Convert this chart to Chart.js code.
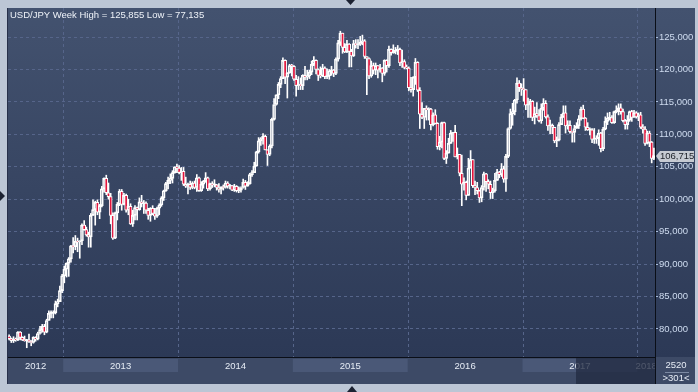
<!DOCTYPE html>
<html>
<head>
<meta charset="utf-8">
<script src="https://cdn.jsdelivr.net/npm/chart.js@4"></script>
<style>
  html, body { margin: 0; padding: 0; background: #bcc6d5; }
  #wrap { width: 698px; height: 392px; }
</style>
</head>
<body>
<div id="wrap"><canvas id="myChart" width="698" height="392"></canvas></div>
<script>
// weekly candles [open, high, low, close], grouped by the year of the week's Monday
var years = ['2012', '2013', '2014', '2015', '2016', '2017', '2018'];

var ohlc2012 = [
    [78.9, 79.1, 78.3, 78.5], [78.5, 78.6, 77.9, 78.2], [78.2, 78.8, 77.9, 78.4], [78.4, 78.6, 78.1, 78.3],
    [78.3, 79.6, 78.2, 79.5], [79.5, 79.6, 78.3, 78.7], [78.7, 78.8, 78.2, 78.3], [78.3, 78.9, 78.1, 78.2],
    [78.2, 78.4, 77.1, 78.3], [78.3, 79.2, 77.9, 78.0], [78.0, 78.2, 77.4, 77.9], [77.9, 78.8, 77.8, 78.7],
    [78.7, 78.8, 78.1, 78.4], [78.4, 79.5, 78.3, 79.3], [79.3, 80.4, 79.2, 79.9], [79.9, 80.7, 79.5, 80.4],
    [80.4, 80.7, 79.1, 79.5], [79.5, 81.5, 79.4, 81.3], [81.3, 82.8, 81.3, 82.4], [82.4, 82.8, 81.7, 82.4],
    [82.4, 82.8, 81.7, 82.5], [82.5, 84.3, 82.3, 83.9], [83.9, 84.6, 83.4, 84.2], [84.2, 86.6, 84.2, 85.9],
    [85.9, 88.4, 85.6, 88.2]
];
var ohlc2013 = [
    [88.2, 89.7, 87.1, 89.2], [89.2, 90.2, 88.0, 90.1], [90.1, 91.0, 88.1, 90.8], [90.8, 92.9, 90.3, 92.8],
    [92.8, 94.1, 91.7, 92.7], [92.7, 94.4, 92.2, 93.5], [93.5, 94.0, 91.9, 93.4], [93.4, 93.6, 90.9, 93.6],
    [93.6, 96.2, 93.0, 96.0], [96.0, 96.7, 95.2, 95.3], [95.3, 95.7, 94.3, 94.5], [94.5, 94.9, 92.6, 94.2],
    [94.2, 97.8, 92.6, 97.5], [97.5, 99.9, 97.5, 98.4], [98.4, 99.7, 96.0, 99.5], [99.5, 99.9, 97.6, 98.0],
    [98.0, 99.2, 97.0, 99.0], [99.0, 102.0, 98.8, 101.6], [101.6, 103.3, 101.1, 103.2], [103.2, 103.7, 100.7, 101.0],
    [101.0, 102.5, 100.0, 100.4], [100.4, 100.9, 96.2, 97.5], [97.5, 97.9, 93.8, 94.0], [94.0, 98.0, 93.9, 97.9],
    [97.9, 99.5, 96.8, 99.2], [99.2, 101.5, 99.0, 101.2], [101.2, 101.5, 98.3, 99.2], [99.2, 100.9, 99.1, 100.6],
    [100.6, 100.8, 98.0, 98.3], [98.3, 100.0, 97.6, 98.9], [98.9, 99.3, 96.1, 96.2], [96.2, 98.3, 95.8, 97.5],
    [97.5, 99.0, 96.8, 98.7], [98.7, 98.8, 96.8, 98.4], [98.4, 100.2, 98.3, 99.6], [99.6, 100.6, 98.8, 99.3],
    [99.3, 99.8, 97.8, 99.4], [99.4, 99.6, 97.8, 98.3], [98.3, 98.6, 96.9, 97.5], [97.5, 98.7, 96.6, 98.6],
    [98.6, 99.0, 97.6, 97.8], [97.8, 98.6, 96.9, 97.4], [97.4, 98.8, 97.2, 98.6], [98.6, 99.3, 97.6, 99.1],
    [99.1, 100.4, 98.9, 100.2], [100.2, 101.4, 99.8, 101.3], [101.3, 102.6, 101.2, 102.4], [102.4, 103.4, 101.6, 102.9],
    [102.9, 103.9, 102.4, 103.2], [103.2, 104.4, 102.5, 104.1], [104.1, 105.0, 104.0, 105.0], [105.0, 105.4, 104.1, 104.8]
];
var ohlc2014 = [
    [104.8, 105.2, 103.9, 104.1], [104.1, 104.9, 102.9, 104.3], [104.3, 104.9, 102.1, 102.3], [102.3, 103.4, 101.8, 102.0],
    [102.0, 102.5, 100.8, 102.3], [102.3, 102.8, 101.5, 101.8], [101.8, 102.7, 101.6, 102.5], [102.5, 102.8, 101.6, 101.8],
    [101.8, 103.8, 101.2, 103.3], [103.3, 103.4, 101.2, 101.3], [101.3, 102.7, 101.2, 102.3], [102.3, 102.9, 101.7, 102.8],
    [102.8, 104.1, 102.6, 103.3], [103.3, 103.4, 101.3, 101.6], [101.6, 102.5, 101.4, 102.4], [102.4, 102.7, 101.8, 102.2],
    [102.2, 103.0, 101.9, 102.2], [102.2, 102.3, 101.4, 101.8], [101.8, 102.4, 101.1, 101.5], [101.5, 101.9, 100.8, 101.9],
    [101.9, 102.2, 101.4, 101.8], [101.8, 102.8, 101.7, 102.5], [102.5, 102.7, 101.7, 102.0], [102.0, 102.3, 101.6, 102.1],
    [102.1, 102.1, 101.3, 101.4], [101.4, 102.3, 101.2, 102.0], [102.0, 102.1, 101.1, 101.3], [101.3, 101.9, 101.0, 101.4],
    [101.4, 101.9, 101.1, 101.8], [101.8, 103.1, 101.7, 102.6], [102.6, 102.9, 101.5, 102.0], [102.0, 102.7, 102.0, 102.4],
    [102.4, 104.0, 102.3, 103.8], [103.8, 104.4, 103.5, 104.1], [104.1, 105.7, 104.1, 105.1], [105.1, 107.4, 105.1, 107.3],
    [107.3, 109.5, 107.1, 109.0], [109.0, 109.5, 108.3, 109.3], [109.3, 110.1, 108.5, 109.7], [109.7, 109.9, 107.6, 107.6],
    [107.6, 107.6, 105.2, 106.9], [106.9, 108.4, 106.7, 108.2], [108.2, 112.5, 107.9, 112.3], [112.3, 115.5, 112.2, 114.6],
    [114.6, 116.1, 114.5, 116.1], [116.1, 118.0, 115.5, 117.7], [117.7, 118.9, 117.2, 118.6], [118.6, 121.8, 118.6, 121.4],
    [121.4, 121.5, 117.8, 118.8], [118.8, 119.5, 115.6, 119.5], [119.5, 120.8, 119.4, 120.6], [120.6, 120.8, 119.0, 120.5]
];
var ohlc2015 = [
    [120.5, 120.6, 118.3, 118.5], [118.5, 119.1, 115.9, 117.5], [117.5, 118.9, 116.9, 117.7], [117.7, 118.7, 116.9, 117.5],
    [117.5, 119.2, 116.9, 119.1], [119.1, 120.5, 118.4, 118.8], [118.8, 119.9, 118.4, 119.0], [119.0, 119.9, 118.6, 119.6],
    [119.6, 121.3, 119.2, 120.8], [120.8, 122.0, 120.6, 121.4], [121.4, 121.5, 119.3, 120.0], [120.0, 120.1, 118.3, 119.1],
    [119.1, 120.4, 118.7, 119.0], [119.0, 120.8, 118.9, 120.2], [120.2, 120.4, 118.6, 118.9], [118.9, 120.1, 118.6, 119.0],
    [119.0, 120.0, 118.5, 119.8], [119.8, 120.5, 119.1, 119.9], [119.9, 120.0, 118.9, 119.4], [119.4, 121.8, 119.2, 121.6],
    [121.6, 124.5, 121.3, 124.1], [124.1, 125.9, 123.7, 125.6], [125.6, 125.6, 122.5, 123.4], [123.4, 124.0, 122.6, 122.7],
    [122.7, 124.5, 122.6, 123.9], [123.9, 124.0, 120.4, 122.8], [122.8, 123.1, 120.4, 122.1], [122.1, 124.5, 122.0, 124.0],
    [124.0, 124.6, 123.3, 123.8], [123.8, 124.6, 123.2, 123.9], [123.9, 125.1, 123.7, 124.2], [124.2, 125.3, 123.8, 124.4],
    [124.4, 124.6, 121.7, 122.0], [122.0, 122.0, 116.1, 121.7], [121.7, 121.8, 118.6, 119.0], [119.0, 121.3, 118.8, 120.6],
    [120.6, 121.0, 119.3, 119.9], [119.9, 121.0, 119.2, 120.6], [120.6, 120.6, 118.7, 119.9], [119.9, 120.8, 119.6, 120.2],
    [120.2, 120.3, 118.1, 119.4], [119.4, 121.5, 119.1, 121.4], [121.4, 121.5, 119.6, 120.6], [120.6, 123.6, 120.3, 123.1],
    [123.1, 123.2, 122.2, 122.6], [122.6, 123.8, 122.5, 122.8], [122.8, 123.4, 122.4, 122.9], [122.9, 123.7, 122.3, 123.1],
    [123.1, 123.3, 120.6, 121.0], [121.0, 123.0, 120.3, 121.2], [121.2, 121.5, 120.1, 120.3], [120.3, 120.7, 120.1, 120.2]
];
var ohlc2016 = [
    [120.2, 120.4, 116.7, 117.2], [117.2, 118.8, 116.5, 116.9], [116.9, 118.9, 115.9, 118.8], [118.8, 121.7, 117.7, 121.1],
    [121.1, 121.2, 116.6, 116.8], [116.8, 117.2, 110.9, 113.1], [113.1, 114.9, 112.4, 112.6], [112.6, 114.0, 110.9, 114.0],
    [114.0, 114.4, 112.2, 113.8], [113.8, 114.1, 112.2, 113.9], [113.9, 114.0, 110.7, 111.5], [111.5, 113.3, 111.3, 113.0],
    [113.0, 113.8, 111.6, 111.7], [111.7, 111.8, 107.7, 108.1], [108.1, 109.7, 107.6, 108.8], [108.8, 111.9, 107.9, 111.8],
    [111.8, 111.9, 106.1, 106.3], [106.3, 107.5, 105.5, 107.1], [107.1, 109.4, 107.1, 108.6], [108.6, 110.6, 108.6, 110.2],
    [110.2, 110.3, 108.9, 110.3], [110.3, 111.4, 106.5, 106.5], [106.5, 107.9, 106.2, 106.9], [106.9, 106.9, 103.6, 104.0],
    [104.0, 106.8, 99.0, 102.3], [102.3, 103.3, 101.4, 102.6], [102.6, 102.8, 99.9, 100.6], [100.6, 106.3, 100.6, 104.8],
    [104.8, 107.5, 104.8, 106.1], [106.1, 106.1, 101.8, 102.1], [102.1, 102.8, 100.7, 101.8], [101.8, 102.6, 100.8, 101.3],
    [101.3, 101.4, 99.5, 100.2], [100.2, 102.1, 99.6, 101.8], [101.8, 104.2, 101.4, 103.9], [103.9, 104.0, 101.2, 102.7],
    [102.7, 103.0, 101.6, 102.3], [102.3, 102.8, 100.1, 101.0], [101.0, 101.7, 100.1, 101.3], [101.3, 104.0, 101.1, 102.9],
    [102.9, 104.6, 102.9, 104.2], [104.2, 104.3, 103.3, 103.8], [103.8, 105.5, 103.5, 104.7], [104.7, 105.1, 102.6, 103.1],
    [103.1, 106.9, 101.2, 106.6], [106.6, 111.0, 106.4, 110.9], [110.9, 113.9, 110.8, 113.2], [113.2, 114.8, 111.4, 113.5],
    [113.5, 115.4, 113.0, 115.3], [115.3, 118.7, 114.8, 117.9], [117.9, 118.3, 116.6, 117.2], [117.2, 117.8, 116.0, 117.0]
];
var ohlc2017 = [
    [117.0, 118.6, 115.1, 116.9], [116.9, 116.9, 113.8, 114.5], [114.5, 115.6, 112.6, 114.6], [114.6, 115.4, 112.6, 115.1],
    [115.1, 115.2, 112.1, 112.6], [112.6, 114.2, 111.6, 113.2], [113.2, 114.9, 112.6, 112.9], [112.9, 113.8, 111.9, 112.1],
    [112.1, 114.7, 111.7, 114.0], [114.0, 115.5, 113.7, 114.8], [114.8, 115.2, 112.5, 112.7], [112.7, 113.0, 110.6, 111.3],
    [111.3, 112.2, 110.1, 111.4], [111.4, 111.6, 110.1, 111.1], [111.1, 111.1, 108.7, 109.0], [109.0, 109.6, 108.1, 109.1],
    [109.1, 111.8, 109.0, 111.5], [111.5, 113.1, 111.5, 112.7], [112.7, 114.4, 112.6, 113.3], [113.3, 114.4, 110.2, 111.3],
    [111.3, 112.1, 110.8, 111.4], [111.4, 112.1, 110.2, 110.4], [110.4, 110.5, 108.8, 110.3], [110.3, 111.4, 108.8, 110.9],
    [110.9, 111.8, 110.9, 111.3], [111.3, 112.9, 110.9, 112.4], [112.4, 114.2, 112.2, 113.9], [113.9, 114.5, 112.4, 112.5],
    [112.5, 112.6, 110.6, 111.1], [111.1, 111.8, 110.6, 110.7], [110.7, 111.0, 109.9, 110.7], [110.7, 110.9, 108.7, 109.2],
    [109.2, 110.9, 108.6, 109.3], [109.3, 109.8, 108.6, 109.4], [109.4, 110.7, 108.3, 110.2], [110.2, 110.3, 107.3, 107.8],
    [107.8, 111.1, 107.5, 110.8], [110.8, 112.7, 110.7, 112.0], [112.0, 113.3, 111.5, 112.5], [112.5, 113.4, 112.2, 112.6],
    [112.6, 112.9, 111.7, 111.8], [111.8, 113.6, 111.7, 113.5], [113.5, 114.4, 113.3, 113.7], [113.7, 114.7, 113.0, 114.1],
    [114.1, 114.7, 113.1, 113.5], [113.5, 113.9, 111.9, 112.1], [112.1, 112.3, 110.8, 111.5], [111.5, 112.9, 110.8, 112.2],
    [112.2, 113.6, 112.0, 113.5], [113.5, 113.7, 112.0, 112.6], [112.6, 113.7, 112.6, 113.3], [113.3, 113.5, 112.5, 112.7]
];
var ohlc2018 = [
    [112.7, 113.3, 112.1, 113.0], [113.0, 113.4, 110.9, 111.1], [111.1, 111.5, 110.2, 110.8], [110.8, 111.2, 108.3, 108.6],
    [108.6, 110.5, 108.5, 110.2], [110.2, 110.5, 108.1, 108.8], [108.8, 108.9, 105.6, 106.3], [106.3, 107.9, 106.1, 106.715]
];

var titleText = 'USD/JPY Week High = 125,855 Low = 77,135';
var lastPrice = 106.715;
var yTicks = [80, 85, 90, 95, 100, 105, 110, 115, 120, 125];
</script>
<script>
(function () {
    var yearData = [ohlc2012, ohlc2013, ohlc2014, ohlc2015, ohlc2016, ohlc2017, ohlc2018];
    var ohlc = [];
    var labels = [];
    var yearStart = [];
    yearData.forEach(function (arr, k) {
        yearStart.push(ohlc.length);
        arr.forEach(function (d, j) {
            ohlc.push(d);
            labels.push(years[k] + '-' + (j + 1));
        });
    });
    yearStart.push(ohlc.length);

    var fmt = function (v) { return Number(v).toFixed(3).replace('.', ','); };
    var FONT = '"Liberation Sans", Arial, sans-serif';

    // 背景とフレーム
    var panelPlugin = {
        id: 'panel',
        beforeDraw: function (chart) {
            var ctx = chart.ctx;
            ctx.save();
            ctx.fillStyle = '#bcc6d5';
            ctx.fillRect(0, 0, 698, 392);
            var g = ctx.createLinearGradient(0, 8, 0, 357);
            g.addColorStop(0, '#43526f');
            g.addColorStop(1, '#2c3956');
            ctx.fillStyle = g;
            ctx.fillRect(8, 8, 687, 349);
            ctx.fillStyle = '#3d4a66';
            ctx.fillRect(8, 357, 687, 27);
            ctx.restore();
        },
        beforeDatasetsDraw: function (chart) {
            // 年の区切り線
            var ctx = chart.ctx, xs = chart.scales.x, area = chart.chartArea;
            var w = xs.width / labels.length;
            ctx.save();
            ctx.strokeStyle = '#56658a';
            ctx.lineWidth = 1;
            ctx.setLineDash([3, 3]);
            for (var k = 1; k < years.length; k++) {
                var x = Math.round(xs.getPixelForValue(yearStart[k]) - w / 2) + 0.5;
                ctx.beginPath();
                ctx.moveTo(x, area.top);
                ctx.lineTo(x, area.bottom);
                ctx.stroke();
            }
            ctx.restore();
        },
        afterDraw: function (chart) {
            var ctx = chart.ctx, xs = chart.scales.x, ys = chart.scales.y, area = chart.chartArea;
            var w = xs.width / labels.length;
            ctx.save();

            // 年ラベルの帯
            ctx.save();
            ctx.beginPath();
            ctx.rect(area.left, 357, area.right - area.left, 27);
            ctx.clip();
            for (var k = 0; k < years.length; k++) {
                var x0 = Math.max(area.left, xs.getPixelForValue(yearStart[k]) - w / 2);
                var x1 = xs.getPixelForValue(yearStart[k + 1] - 1) + w / 2;
                if (k % 2 === 1) {
                    ctx.fillStyle = '#4a5877';
                    ctx.fillRect(x0, 359, x1 - x0, 13);
                }
                ctx.fillStyle = '#e6ecf5';
                ctx.font = '9.5px ' + FONT;
                ctx.textAlign = 'center';
                ctx.textBaseline = 'middle';
                ctx.fillText(years[k], (x0 + x1) / 2, 366);
            }
            ctx.fillStyle = 'rgba(34, 43, 66, 0.78)';
            ctx.fillRect(576, 358, area.right - 576, 26);
            ctx.restore();

            // 黒い境界線
            ctx.strokeStyle = '#0a0e17';
            ctx.lineWidth = 1;
            ctx.beginPath();
            ctx.moveTo(area.left, 357.5);
            ctx.lineTo(area.right, 357.5);
            ctx.moveTo(area.right + 0.5, 8);
            ctx.lineTo(area.right + 0.5, 384);
            ctx.stroke();
            ctx.strokeStyle = '#27304a';
            ctx.beginPath();
            ctx.moveTo(7.5, 8);
            ctx.lineTo(7.5, 384);
            ctx.stroke();

            // 右下のボックス
            ctx.fillStyle = '#e6ecf5';
            ctx.font = '9.5px ' + FONT;
            ctx.textAlign = 'center';
            ctx.textBaseline = 'middle';
            ctx.fillText('2520', 676, 365);
            ctx.fillText('>301<', 676, 378);
            ctx.strokeStyle = '#7d8aa3';
            ctx.beginPath();
            ctx.moveTo(665, 372.5);
            ctx.lineTo(689, 372.5);
            ctx.stroke();

            // タイトル
            ctx.fillStyle = '#eef2f8';
            ctx.font = '9.5px ' + FONT;
            ctx.textAlign = 'left';
            ctx.fillText(titleText, 10, 15);

            // 現在値ラベル
            var py = Math.round(ys.getPixelForValue(lastPrice));
            ctx.fillStyle = '#c6cad2';
            ctx.beginPath();
            ctx.moveTo(area.right + 1, py);
            ctx.lineTo(area.right + 5, py - 5);
            ctx.lineTo(694, py - 5);
            ctx.lineTo(694, py + 6);
            ctx.lineTo(area.right + 5, py + 6);
            ctx.closePath();
            ctx.fill();
            ctx.fillStyle = '#1b1f27';
            ctx.textAlign = 'left';
            ctx.fillText(fmt(lastPrice), 660, py + 0.5);

            // 三角マーク
            ctx.fillStyle = '#1c2232';
            ctx.beginPath();
            ctx.moveTo(346, 0); ctx.lineTo(355, 0); ctx.lineTo(350.5, 5); ctx.closePath();
            ctx.fill();
            ctx.beginPath();
            ctx.moveTo(0, 191); ctx.lineTo(5, 196); ctx.lineTo(0, 201); ctx.closePath();
            ctx.fill();
            ctx.beginPath();
            ctx.moveTo(347, 392); ctx.lineTo(352, 386); ctx.lineTo(357, 392); ctx.closePath();
            ctx.fill();
            ctx.restore();
        }
    };

    var isDown = function (i) { return ohlc[i][3] < ohlc[i][0]; };

    var ctx = document.getElementById('myChart').getContext('2d');
    var config = {
        type: 'bar',
        data: {
            labels: labels,
            datasets: [{
                label: 'body',
                data: ohlc.map(function (d) { return [d[0], d[3]]; }),
                barThickness: 3,
                minBarLength: 1,
                borderWidth: 1,
                borderColor: '#ffffff',
                borderSkipped: false,
                backgroundColor: function (c) { return isDown(c.dataIndex) ? '#e3143c' : 'rgba(0,0,0,0)'; },
                grouped: false
            }, {
                label: 'upper',
                data: ohlc.map(function (d) { return [Math.max(d[0], d[3]), d[1]]; }),
                barThickness: 1,
                backgroundColor: '#ffffff',
                borderWidth: 0,
                grouped: false
            }, {
                label: 'lower',
                data: ohlc.map(function (d) { return [d[2], Math.min(d[0], d[3])]; }),
                barThickness: 1,
                backgroundColor: '#ffffff',
                borderWidth: 0,
                grouped: false
            }]
        },
        options: {
            responsive: false,
            animation: false,
            devicePixelRatio: 1,
            layout: { padding: { left: 8, top: 8, right: 0, bottom: 35 } },
            plugins: {
                legend: { display: false },
                tooltip: { enabled: false }
            },
            scales: {
                x: {
                    type: 'category',
                    offset: true,
                    display: false,
                    grid: { display: false }
                },
                y: {
                    position: 'right',
                    min: 75.67,
                    max: 129.48,
                    afterFit: function (scale) { scale.width = 43; },
                    afterBuildTicks: function (scale) {
                        scale.ticks = yTicks.map(function (v) { return { value: v }; });
                    },
                    grid: {
                        color: '#56658a',
                        lineWidth: 1,
                        drawTicks: true,
                        tickLength: 3,
                        tickColor: '#a9bddb',
                        tickBorderDash: []
                    },
                    border: { display: false, dash: [3, 3] },
                    ticks: {
                        padding: 1,
                        color: '#cfdcf0',
                        font: { family: 'Liberation Sans', size: 9.5 },
                        callback: function (v) { return fmt(v); }
                    }
                }
            }
        },
        plugins: [panelPlugin]
    };
    new Chart(ctx, config);
})();
</script>
</body>
</html>
